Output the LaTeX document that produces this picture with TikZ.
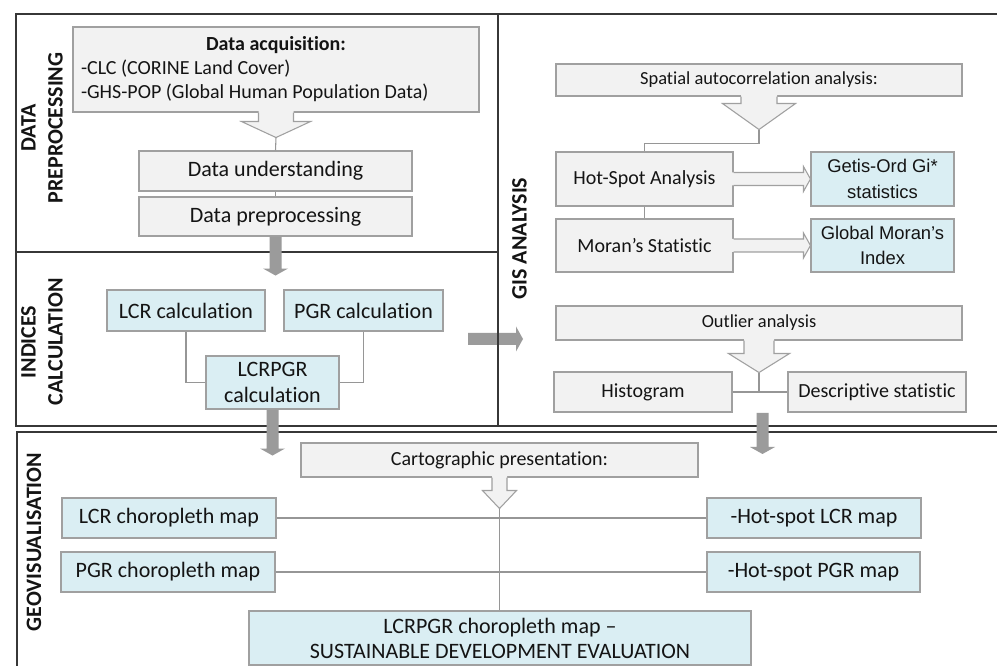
\documentclass[tikz,border=0pt]{standalone}
\usepackage{fontspec}
\setmainfont{Carlito}[Ligatures={NoCommon}]
\newfontfamily\arialf{Liberation Sans}
\usetikzlibrary{calc}
\definecolor{boxgray}{RGB}{242,242,242}
\definecolor{boxblue}{RGB}{218,238,243}
\definecolor{edgegray}{RGB}{160,160,160}
\definecolor{linegray}{RGB}{150,150,150}
\definecolor{arrgray}{RGB}{155,155,155}
\definecolor{panel}{RGB}{55,55,55}
\definecolor{txt}{RGB}{20,20,20}
\newcommand\fsA{\fontsize{16.5}{19.5}\selectfont}
\newcommand\fsB{\fontsize{15}{18}\selectfont}
\newcommand\fsC{\fontsize{13.8}{19}\selectfont}
\newcommand\fsD{\fontsize{13.8}{19.2}\selectfont}
\newcommand\fsL{\fontsize{16.5}{20.25}\selectfont}

\tikzset{
 wh/.style 2 args={minimum width=#1*0.75pt, minimum height=#2*0.75pt},
 gbox/.style={draw=edgegray, fill=boxgray, line width=0.8pt, inner sep=0pt, text=txt},
 bbox/.style={draw=edgegray, fill=boxblue, line width=0.8pt, inner sep=0pt, text=txt},
 conn/.style={draw=linegray, line width=0.8pt},
 hfill/.style={fill=boxgray},
 hline/.style={draw=edgegray, line width=0.8pt, line join=miter},
 garrow/.style={fill=arrgray},
 panelline/.style={draw=panel, line width=1.3pt},
 plabel/.style={rotate=90, align=center, font=\bfseries\fsL, text=txt, inner sep=0pt},
}

% hollow down arrow under a node: node, shaft half width, shaft length, head half width, tip distance
\newcommand\hdown[5]{%
 \fill[hfill] ($(#1.south)+(-#2,-1.5)$) -- ($(#1.south)+(-#2,#3)$) -- ($(#1.south)+(-#4,#3)$) -- ($(#1.south)+(0,#5)$) -- ($(#1.south)+(#4,#3)$) -- ($(#1.south)+(#2,#3)$) -- ($(#1.south)+(#2,-1.5)$) -- cycle;
 \draw[hline] ($(#1.south)+(-#2,0)$) -- ($(#1.south)+(-#2,#3)$) -- ($(#1.south)+(-#4,#3)$) -- ($(#1.south)+(0,#5)$) -- ($(#1.south)+(#4,#3)$) -- ($(#1.south)+(#2,#3)$) -- ($(#1.south)+(#2,0)$);
 \coordinate (#1-tip) at ($(#1.south)+(0,#5)$);
}
% hollow right arrow from node #1 to node #2
\newcommand\hright[2]{%
 \fill[hfill] ($(#1.east)+(-1.5,-6.5)$) -- ($(#2.west)+(-7,-6.5)$) -- ($(#2.west)+(-7,-12.5)$) -- (#2.west) -- ($(#2.west)+(-7,12.5)$) -- ($(#2.west)+(-7,6.5)$) -- ($(#1.east)+(-1.5,6.5)$) -- cycle;
 \draw[hline] ($(#1.east)+(0,-6.5)$) -- ($(#2.west)+(-7,-6.5)$) -- ($(#2.west)+(-7,-12.5)$) -- (#2.west) -- ($(#2.west)+(-7,12.5)$) -- ($(#2.west)+(-7,6.5)$) -- ($(#1.east)+(0,6.5)$);
}
% solid grey arrows
\newcommand\gdown[2]{%
 \fill[garrow] ($(#1)+(-6,0)$) -- ($(#1)+(-6,#2-7)$) -- ($(#1)+(-12.5,#2-7)$) -- ($(#1)+(0,#2)$) -- ($(#1)+(12.5,#2-7)$) -- ($(#1)+(6,#2-7)$) -- ($(#1)+(6,0)$) -- cycle;
}
\newcommand\gright[2]{%
 \fill[garrow] ($(#1)+(0,-6)$) -- ($(#1)+(#2-7,-6)$) -- ($(#1)+(#2-7,-12.5)$) -- ($(#1)+(#2,0)$) -- ($(#1)+(#2-7,12.5)$) -- ($(#1)+(#2-7,6)$) -- ($(#1)+(0,6)$) -- cycle;
}

\begin{document}
\begin{tikzpicture}[x=0.75pt,y=-0.75pt]
\useasboundingbox[fill=white] (0,0) rectangle (997,666);

% panels
\draw[panelline] (997,14) -- (16,14) -- (16,426) -- (997,426);
\draw[panelline] (16,252) -- (498,252);
\draw[panelline] (997,432) -- (17,432) -- (17,667);

% panel labels
\node[plabel] (lab1) at (42,128) {DATA\\PREPROCESSING};
\node[plabel] (lab2) at (42,342) {INDICES\\CALCULATION};
\node[plabel] (lab3) at (34,542) {GEOVISUALISATION};
\node[plabel] (lab4) at (519.5,238.5) {GIS ANALYSIS};

% data preprocessing
\node[gbox, wh={406}{85}, align=center, font=\fsB] (acq) at (276,69.5)
 {\textbf{Data acquisition:}\\\makebox[292.5pt][l]{-CLC (CORINE Land Cover)}\\\makebox[292.5pt][l]{-GHS-POP (Global Human Population Data)}};
\node[gbox, wh={273}{40}, font=\fsA] (du) at (275.5,171) {Data understanding};
\node[gbox, wh={273}{39}, font=\fsA] (dp) at (275.5,216.5) {Data preprocessing};

% indices
\node[bbox, wh={158}{41}, font=\fsA] (lcr) at (186,310.5) {LCR calculation};
\node[bbox, wh={159}{41}, font=\fsA] (pgr) at (363.5,310.5) {PGR calculation};
\node[bbox, wh={133}{53}, font=\fsA, align=center] (lcrpgr) at (272.5,382.5) {LCRPGR\\calculation};

% GIS analysis
\node[gbox, wh={406}{32}, font=\fsC] (sp) at (759,80) {Spatial autocorrelation analysis:};
\node[gbox, wh={177}{54}, font=\fsB] (hs) at (644.5,179) {Hot-Spot Analysis};
\node[gbox, wh={177}{53}, font=\fsB] (mo) at (644.5,245.5) {Moran’s Statistic};
\node[bbox, wh={143}{54}, font=\arialf\fsD, align=center] (go) at (882.5,179) {Getis-Ord Gi*\\statistics};
\node[bbox, wh={143}{53}, font=\arialf\fsD, align=center] (gm) at (882.5,245.5) {Global Moran’s\\Index};
\node[gbox, wh={406}{34}, font=\fsC] (ol) at (759,323) {Outlier analysis};
\node[gbox, wh={178}{40}, font=\fsB] (hi) at (643,392) {Histogram};
\node[gbox, wh={178}{40}, font=\fsB] (ds) at (877,392) {Descriptive statistic};

% geovisualisation
\node[gbox, wh={397}{34}, font=\fsB] (cp) at (499.5,460) {Cartographic presentation:};
\node[bbox, wh={214}{40}, font=\fsA] (lm) at (169,518) {LCR choropleth map};
\node[bbox, wh={214}{40}, font=\fsA] (pm) at (168,572) {PGR choropleth map};
\node[bbox, wh={214}{40}, font=\fsA] (hl) at (814,518) {-Hot-spot LCR map};
\node[bbox, wh={213}{40}, font=\fsA] (hp) at (813.5,572) {-Hot-spot PGR map};
\node[bbox, wh={502}{54}, font=\fontsize{16.5}{18.75}\selectfont, align=center] (lp) at (500,638)
 {LCRPGR choropleth map --\\SUSTAINABLE DEVELOPMENT EVALUATION};

% hollow arrows
\hdown{acq}{17.5}{9}{34.5}{25}
\hdown{sp}{18}{7}{36.5}{33}
\hdown{ol}{15}{13}{30.5}{32}
\hdown{cp}{7.5}{13}{17}{31}
\hright{hs}{go}
\hright{mo}{gm}

% thin connectors
\draw[conn] (acq-tip) -- (du.north);
\draw[conn] (du.south) -- (dp.north);
\draw[conn] (lcr.south) |- (lcrpgr.west);
\draw[conn] (pgr.south) |- (lcrpgr.east);
\draw[conn] (sp-tip) -- ++(0,14) -| (hs.north);
\draw[conn] (hs.south) -- (mo.north);
\draw[conn] (ol-tip) -- (ol-tip |- hi.east);
\draw[conn] (hi.east) -- (ds.west);
\draw[conn] (cp-tip) -- (cp-tip |- lp.north);
\draw[conn] (lm.east) -- (hl.west);
\draw[conn] (pm.east) -- (hp.west);

% solid grey arrows
\gdown{dp.south}{39}
\gdown{lcrpgr.south}{46}
\coordinate (g3) at (762.5,413);
\gdown{g3}{41}
\coordinate (g4) at (468,339);
\gright{g4}{55}

\draw[panelline] (498,14) -- (498,426);
\end{tikzpicture}
\end{document}
